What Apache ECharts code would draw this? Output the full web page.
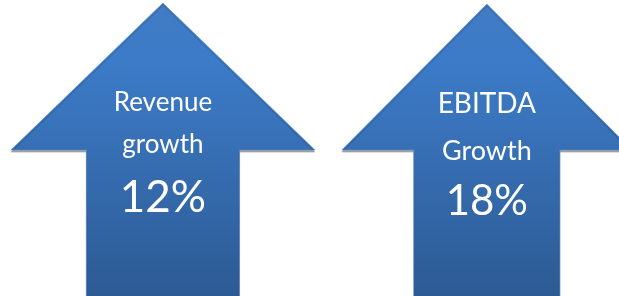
<!DOCTYPE html>
<html>
<head>
<meta charset="utf-8">
<script src="https://cdn.jsdelivr.net/npm/echarts@6/dist/echarts.min.js"></script>
<style>html,body{margin:0;padding:0;background:#fff}#c{width:619px;height:296px}</style>
</head>
<body>
<div id="c"></div>
<script>
const categories = ['Revenue growth', 'EBITDA Growth'];
const titleLine1 = ['Revenue', 'EBITDA'];
const titleLine2 = ['growth', 'Growth'];
const growthValues = [12, 18];

const chart = echarts.init(document.getElementById('c'), null, {renderer: 'canvas'});
const wingHalf = [152, 145];
const shaftHalf = [76.5, 73];
const tipY = [3, 4];
const line1Font = [26, 28];
const line2Font = [26, 27];
const line1Y = [103, 104];
const line2Y = [145, 151];
const valY = [198, 201];
const valFont = [44, 42];

chart.setOption({
  animation: false,
  grid: {left: 0, right: 0, top: 0, bottom: 0, containLabel: false},
  xAxis: {type: 'value', min: -0.503, max: 1.408, show: false},
  yAxis: {type: 'value', min: 0, max: 20, show: false},
  series: [{
    type: 'custom',
    name: 'growth',
    data: growthValues.map((v, i) => [i, v, categories[i]]),
    renderItem: function (params, api) {
      const i = params.dataIndex;
      const cx = api.coord([api.value(0), 0])[0];
      const cs = params.coordSys;
      const top = cs.y + tipY[i];
      const bottom = cs.y + cs.height + 2;
      const wingY = 150;
      const w = wingHalf[i], s = shaftHalf[i];
      const pts = [
        [cx, top], [cx + w, wingY], [cx + s, wingY], [cx + s, bottom],
        [cx - s, bottom], [cx - s, wingY], [cx - w, wingY]
      ];
      return {
        type: 'group',
        children: [{
          type: 'polygon',
          shape: {points: pts},
          style: {
            fill: new echarts.graphic.LinearGradient(0, 0, 0, 1, [
              {offset: 0, color: '#417bc4'},
              {offset: 0.2, color: '#3c7bc8'},
              {offset: 0.5, color: '#376fb4'},
              {offset: 1, color: '#2c5a93'}
            ]),
            stroke: 'rgba(90,140,205,0.6)',
            lineWidth: 1,
            shadowColor: 'rgba(0,0,0,0.35)',
            shadowBlur: 1,
            shadowOffsetY: 2
          }
        }, {
          type: 'text',
          style: {
            text: titleLine1[i], x: cx, y: line1Y[i],
            align: 'center', verticalAlign: 'middle',
            fill: '#ffffff', font: line1Font[i] + 'px Lato, "Open Sans", sans-serif'
          }
        }, {
          type: 'text',
          style: {
            text: titleLine2[i], x: cx, y: line2Y[i],
            align: 'center', verticalAlign: 'middle',
            fill: '#ffffff', font: line2Font[i] + 'px Lato, "Open Sans", sans-serif'
          }
        }, {
          type: 'text',
          style: {
            text: api.value(1) + '%', x: cx, y: valY[i],
            align: 'center', verticalAlign: 'middle',
            fill: '#ffffff', font: valFont[i] + 'px Lato, "Open Sans", sans-serif'
          }
        }]
      };
    }
  }]
});
</script>
</body>
</html>
